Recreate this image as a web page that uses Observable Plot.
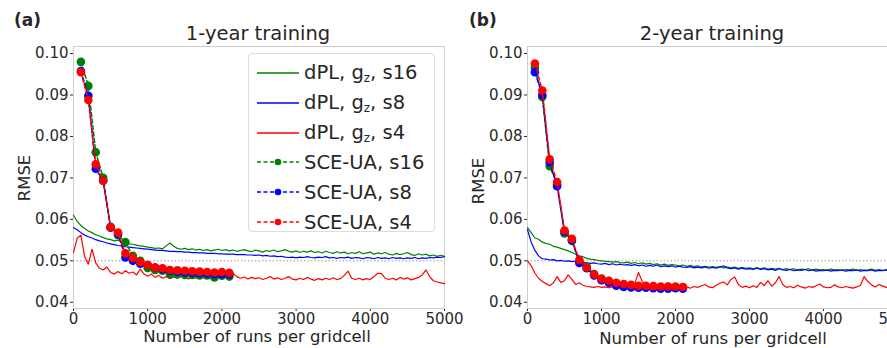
<!DOCTYPE html>
<html>
<head>
<meta charset="utf-8">
<script src="https://cdn.jsdelivr.net/npm/d3@7"></script>
<script src="https://cdn.jsdelivr.net/npm/@observablehq/plot@0.6"></script>
<style>
  html, body { margin: 0; padding: 0; background: #fff; overflow: hidden; }
  #wrap { position: relative; width: 887px; height: 348px; overflow: hidden; background: #fff;
          font-family: "DejaVu Sans", sans-serif; color: #262626; }
  .panel { position: absolute; top: 0; }
  .lbl { position: absolute; white-space: nowrap; line-height: 1; transform: translate(-50%, -50%); }
  .tag { position: absolute; font-weight: bold; font-size: 17px; line-height: 1.2; }
  .title { font-size: 19.5px; }
  .axl { font-size: 16.5px; }
  .rot { transform: translate(-50%, -50%) rotate(-90deg); }
  .legend { position: absolute; left: 248px; top: 53px; width: 185px; height: 177px;
            border: 1px solid #dcdcdc; border-radius: 4px; background: rgba(255,255,255,0.85); }
  .row { position: absolute; left: 8px; height: 26px; display: flex; align-items: center; font-size: 19.5px; }
  .row svg { width: 42px; height: 12px; margin-right: 5px; }
  sub { font-size: 12px; vertical-align: -3px; }
</style>
</head>
<body>
<div id="wrap"></div>
<script>
// Runs per grid cell at which the dPL curves are sampled, and the SCE-UA checkpoints
const denseStep = 50;
const sceRuns = [100, 200, 300, 400, 500, 600, 700, 800, 900, 1000, 1100, 1200, 1300, 1400, 1500, 1600, 1700, 1800, 1900, 2000, 2100];

const xTicks = [0, 1000, 2000, 3000, 4000, 5000];
const yTicks = [0.04, 0.05, 0.06, 0.07, 0.08, 0.09, 0.10];

// ---- 1-year training ----
const dpl1_s16 = [0.0610,0.0595,0.0585,0.0578,0.0572,0.0568,0.0563,0.0560,0.0556,0.0553,0.0551,0.0548,0.0550,0.0545,0.0543,0.0541,0.0540,0.0538,0.0536,0.0535,
  0.0533,0.0532,0.0530,0.0531,0.0529,0.0536,0.0543,0.0535,0.0530,0.0528,0.0530,0.0527,0.0529,0.0526,0.0528,0.0525,0.0527,0.0524,0.0526,0.0528,
  0.0525,0.0527,0.0524,0.0526,0.0523,0.0525,0.0527,0.0524,0.0522,0.0526,0.0524,0.0521,0.0525,0.0523,0.0526,0.0522,0.0524,0.0527,0.0523,0.0521,
  0.0524,0.0520,0.0523,0.0521,0.0524,0.0520,0.0522,0.0519,0.0523,0.0520,0.0518,0.0522,0.0519,0.0521,0.0517,0.0520,0.0518,0.0522,0.0517,0.0519,
  0.0521,0.0516,0.0519,0.0517,0.0520,0.0516,0.0514,0.0518,0.0515,0.0517,0.0520,0.0515,0.0513,0.0517,0.0514,0.0516,0.0512,0.0514,0.0511,0.0513,0.0511];
const dpl1_s8 = [0.0580,0.0575,0.0568,0.0562,0.0558,0.0555,0.0551,0.0548,0.0546,0.0543,0.0541,0.0539,0.0537,0.0536,0.0534,0.0533,0.0532,0.0531,0.0530,0.0529,
  0.0528,0.0527,0.0526,0.0525,0.0525,0.0524,0.0523,0.0523,0.0522,0.0522,0.0521,0.0521,0.0520,0.0520,0.0519,0.0519,0.0518,0.0518,0.0518,0.0517,
  0.0517,0.0516,0.0516,0.0516,0.0515,0.0515,0.0515,0.0514,0.0514,0.0513,0.0514,0.0512,0.0513,0.0511,0.0512,0.0510,0.0511,0.0509,0.0508,0.0509,
  0.0507,0.0509,0.0508,0.0510,0.0508,0.0507,0.0509,0.0508,0.0510,0.0507,0.0508,0.0506,0.0508,0.0507,0.0509,0.0506,0.0508,0.0507,0.0505,0.0508,
  0.0507,0.0505,0.0508,0.0506,0.0507,0.0505,0.0508,0.0506,0.0507,0.0505,0.0507,0.0506,0.0508,0.0505,0.0507,0.0506,0.0508,0.0507,0.0509,0.0508,0.0510];
const dpl1_s4 = [0.0520,0.0555,0.0562,0.0510,0.0492,0.0528,0.0495,0.0482,0.0478,0.0485,0.0472,0.0468,0.0474,0.0469,0.0476,0.0470,0.0473,0.0466,0.0480,0.0468,
  0.0463,0.0468,0.0460,0.0465,0.0458,0.0462,0.0457,0.0461,0.0459,0.0465,0.0460,0.0456,0.0462,0.0458,0.0464,0.0459,0.0462,0.0457,0.0461,0.0458,
  0.0463,0.0460,0.0466,0.0470,0.0462,0.0458,0.0461,0.0456,0.0460,0.0457,0.0459,0.0455,0.0458,0.0462,0.0456,0.0459,0.0455,0.0458,0.0462,0.0456,
  0.0454,0.0458,0.0455,0.0460,0.0456,0.0453,0.0457,0.0454,0.0458,0.0455,0.0459,0.0455,0.0457,0.0465,0.0475,0.0458,0.0455,0.0458,0.0454,0.0457,
  0.0455,0.0462,0.0470,0.0469,0.0458,0.0455,0.0458,0.0454,0.0460,0.0456,0.0459,0.0454,0.0457,0.0460,0.0466,0.0478,0.0462,0.0452,0.0449,0.0447,0.0445];
const sce1_s16 = [0.0980,0.0922,0.0762,0.0700,0.0582,0.0562,0.0545,0.0512,0.0500,0.0483,0.0478,0.0476,0.0468,0.0467,0.0466,0.0466,0.0465,0.0465,0.0460,0.0464,0.0462];
const sce1_s8  = [0.0958,0.0898,0.0722,0.0693,0.0580,0.0565,0.0508,0.0500,0.0493,0.0490,0.0484,0.0480,0.0476,0.0474,0.0472,0.0471,0.0470,0.0469,0.0468,0.0468,0.0467];
const sce1_s4  = [0.0955,0.0888,0.0733,0.0693,0.0581,0.0568,0.0518,0.0507,0.0497,0.0490,0.0484,0.0482,0.0478,0.0477,0.0476,0.0475,0.0474,0.0473,0.0472,0.0473,0.0471];

// ---- 2-year training ----
const dpl2_s16 = [0.0580,0.0568,0.0555,0.0552,0.0545,0.0542,0.0540,0.0535,0.0533,0.0530,0.0527,0.0524,0.0520,0.0516,0.0512,0.0510,0.0506,0.0504,0.0503,0.0501,
  0.0500,0.0499,0.0498,0.0497,0.0498,0.0496,0.0495,0.0497,0.0494,0.0496,0.0493,0.0495,0.0492,0.0494,0.0491,0.0493,0.0490,0.0492,0.0489,0.0491,
  0.0490,0.0488,0.0490,0.0487,0.0489,0.0486,0.0488,0.0485,0.0487,0.0485,0.0486,0.0484,0.0486,0.0483,0.0485,0.0483,0.0485,0.0482,0.0484,0.0482,
  0.0483,0.0481,0.0484,0.0481,0.0483,0.0480,0.0482,0.0480,0.0482,0.0479,0.0481,0.0479,0.0481,0.0478,0.0480,0.0479,0.0481,0.0478,0.0480,0.0478,
  0.0479,0.0477,0.0480,0.0478,0.0479,0.0477,0.0479,0.0478,0.0480,0.0477,0.0479,0.0477,0.0478,0.0480,0.0477,0.0479,0.0477,0.0478,0.0476,0.0478,0.0477];
const dpl2_s8 = [0.0575,0.0545,0.0525,0.0512,0.0505,0.0504,0.0502,0.0503,0.0500,0.0501,0.0499,0.0500,0.0498,0.0499,0.0497,0.0496,0.0495,0.0494,0.0495,0.0493,
  0.0492,0.0494,0.0491,0.0493,0.0490,0.0492,0.0490,0.0491,0.0489,0.0491,0.0488,0.0490,0.0487,0.0489,0.0487,0.0490,0.0486,0.0488,0.0486,0.0488,
  0.0485,0.0487,0.0485,0.0484,0.0486,0.0483,0.0485,0.0483,0.0485,0.0482,0.0484,0.0482,0.0485,0.0488,0.0483,0.0481,0.0483,0.0480,0.0482,0.0480,
  0.0481,0.0479,0.0482,0.0479,0.0481,0.0478,0.0480,0.0477,0.0481,0.0478,0.0477,0.0479,0.0476,0.0478,0.0477,0.0479,0.0476,0.0478,0.0475,0.0477,
  0.0476,0.0478,0.0475,0.0477,0.0476,0.0478,0.0475,0.0477,0.0476,0.0478,0.0475,0.0477,0.0476,0.0478,0.0475,0.0477,0.0476,0.0478,0.0476,0.0477,0.0476];
const dpl2_s4 = [0.0500,0.0488,0.0470,0.0458,0.0450,0.0445,0.0440,0.0447,0.0462,0.0448,0.0452,0.0466,0.0455,0.0443,0.0447,0.0441,0.0438,0.0437,0.0436,0.0438,
  0.0436,0.0437,0.0435,0.0437,0.0436,0.0438,0.0436,0.0437,0.0439,0.0445,0.0472,0.0450,0.0440,0.0437,0.0439,0.0436,0.0438,0.0436,0.0437,0.0435,
  0.0437,0.0436,0.0434,0.0437,0.0434,0.0438,0.0436,0.0440,0.0443,0.0437,0.0435,0.0441,0.0446,0.0449,0.0442,0.0455,0.0461,0.0443,0.0436,0.0439,
  0.0435,0.0440,0.0436,0.0448,0.0440,0.0452,0.0439,0.0447,0.0462,0.0442,0.0436,0.0438,0.0435,0.0441,0.0437,0.0434,0.0438,0.0436,0.0440,0.0444,
  0.0437,0.0435,0.0436,0.0442,0.0437,0.0435,0.0438,0.0436,0.0434,0.0437,0.0441,0.0462,0.0450,0.0442,0.0437,0.0443,0.0439,0.0436,0.0438,0.0441,0.0438];
const sce2_s16 = [0.0966,0.0895,0.0728,0.0685,0.0566,0.0548,0.0500,0.0486,0.0468,0.0457,0.0450,0.0445,0.0442,0.0440,0.0438,0.0438,0.0437,0.0436,0.0437,0.0436,0.0436];
const sce2_s8  = [0.0955,0.0900,0.0738,0.0680,0.0570,0.0550,0.0495,0.0482,0.0465,0.0453,0.0447,0.0440,0.0437,0.0436,0.0435,0.0435,0.0434,0.0433,0.0433,0.0434,0.0433];
const sce2_s4  = [0.0976,0.0911,0.0745,0.0690,0.0573,0.0553,0.0502,0.0484,0.0467,0.0456,0.0452,0.0447,0.0444,0.0442,0.0440,0.0440,0.0439,0.0438,0.0438,0.0438,0.0437];

const colors = { s16: "#008000", s8: "#0000ff", s4: "#ff0000" };

const dense = (vals) => vals.map((v, i) => ({ runs: i * denseStep, rmse: v }));
const sparse = (vals) => vals.map((v, i) => ({ runs: sceRuns[i], rmse: v }));

function panel({ dpl, sce, left, marginLeft, marginRight, width }) {
  const marks = [
    Plot.frame({ stroke: "#cfcfcf" }),
    Plot.ruleY([0.05], { stroke: "#9a9a9a", strokeDasharray: "1.5,2", strokeWidth: 1 })
  ];
  for (const k of ["s16", "s8", "s4"]) {
    marks.push(Plot.line(dense(dpl[k]), { x: "runs", y: "rmse", stroke: colors[k], strokeWidth: 1.2 }));
  }
  for (const k of ["s16", "s8", "s4"]) {
    const d = sparse(sce[k]);
    marks.push(Plot.line(d, { x: "runs", y: "rmse", stroke: colors[k], strokeWidth: 1.5, strokeDasharray: "4,2.5" }));
    marks.push(Plot.dot(d, { x: "runs", y: "rmse", fill: colors[k], r: 4.3 }));
  }
  const chart = Plot.plot({
    width, height: 348,
    marginTop: 46, marginBottom: 40, marginLeft, marginRight,
    style: { background: "transparent", fontFamily: "DejaVu Sans, sans-serif", fontSize: "15px", color: "#2a2a2a", overflow: "visible" },
    x: { domain: [0, 5000], ticks: xTicks, tickFormat: "d", tickSize: 3, tickPadding: 2, label: null },
    y: { domain: [0.0385, 0.1017], ticks: yTicks, tickFormat: ".2f", tickSize: 3, tickPadding: 2, label: null },
    marks
  });
  const div = document.createElement("div");
  div.className = "panel";
  div.style.left = left + "px";
  div.style.width = width + "px";
  div.appendChild(chart);
  return div;
}

const wrap = document.getElementById("wrap");

wrap.appendChild(panel({
  dpl: { s16: dpl1_s16, s8: dpl1_s8, s4: dpl1_s4 },
  sce: { s16: sce1_s16, s8: sce1_s8, s4: sce1_s4 },
  left: 0, marginLeft: 73, marginRight: 26, width: 470
}));
wrap.appendChild(panel({
  dpl: { s16: dpl2_s16, s8: dpl2_s8, s4: dpl2_s4 },
  sce: { s16: sce2_s16, s8: sce2_s8, s4: sce2_s4 },
  left: 450, marginLeft: 77, marginRight: 3, width: 450
}));

// Panel tags, titles and axis labels
const texts = [
  { cls: "tag", html: "(a)", x: 14, y: 10 },
  { cls: "tag", html: "(b)", x: 469, y: 10 },
  { cls: "lbl title", html: "1-year training", x: 258, y: 34 },
  { cls: "lbl title", html: "2-year training", x: 712, y: 34 },
  { cls: "lbl axl rot", html: "RMSE", x: 25, y: 178 },
  { cls: "lbl axl rot", html: "RMSE", x: 479, y: 181 },
  { cls: "lbl axl", html: "Number of runs per gridcell", x: 257, y: 337 },
  { cls: "lbl axl", html: "Number of runs per gridcell", x: 713, y: 339 }
];
for (const t of texts) {
  const el = document.createElement("div");
  el.className = t.cls;
  el.style.left = t.x + "px";
  el.style.top = t.y + "px";
  el.innerHTML = t.html;
  wrap.appendChild(el);
}

// Legend for panel (a)
const legendItems = [
  { label: "dPL, g<sub>z</sub>, s16", key: "s16", sce: false },
  { label: "dPL, g<sub>z</sub>, s8", key: "s8", sce: false },
  { label: "dPL, g<sub>z</sub>, s4", key: "s4", sce: false },
  { label: "SCE-UA, s16", key: "s16", sce: true },
  { label: "SCE-UA, s8", key: "s8", sce: true },
  { label: "SCE-UA, s4", key: "s4", sce: true }
];
const legend = document.createElement("div");
legend.className = "legend";
legendItems.forEach((it, i) => {
  const row = document.createElement("div");
  row.className = "row";
  row.style.top = (6 + i * 29.8) + "px";
  const c = colors[it.key];
  const swatch = it.sce
    ? `<svg viewBox="0 0 42 12"><line x1="0" y1="6" x2="42" y2="6" stroke="${c}" stroke-width="1.5" stroke-dasharray="4,2.5"/><circle cx="21" cy="6" r="3.3" fill="${c}"/></svg>`
    : `<svg viewBox="0 0 42 12"><line x1="0" y1="6" x2="42" y2="6" stroke="${c}" stroke-width="1.3"/></svg>`;
  row.innerHTML = swatch + `<span>${it.label}</span>`;
  legend.appendChild(row);
});
wrap.appendChild(legend);
</script>
</body>
</html>
